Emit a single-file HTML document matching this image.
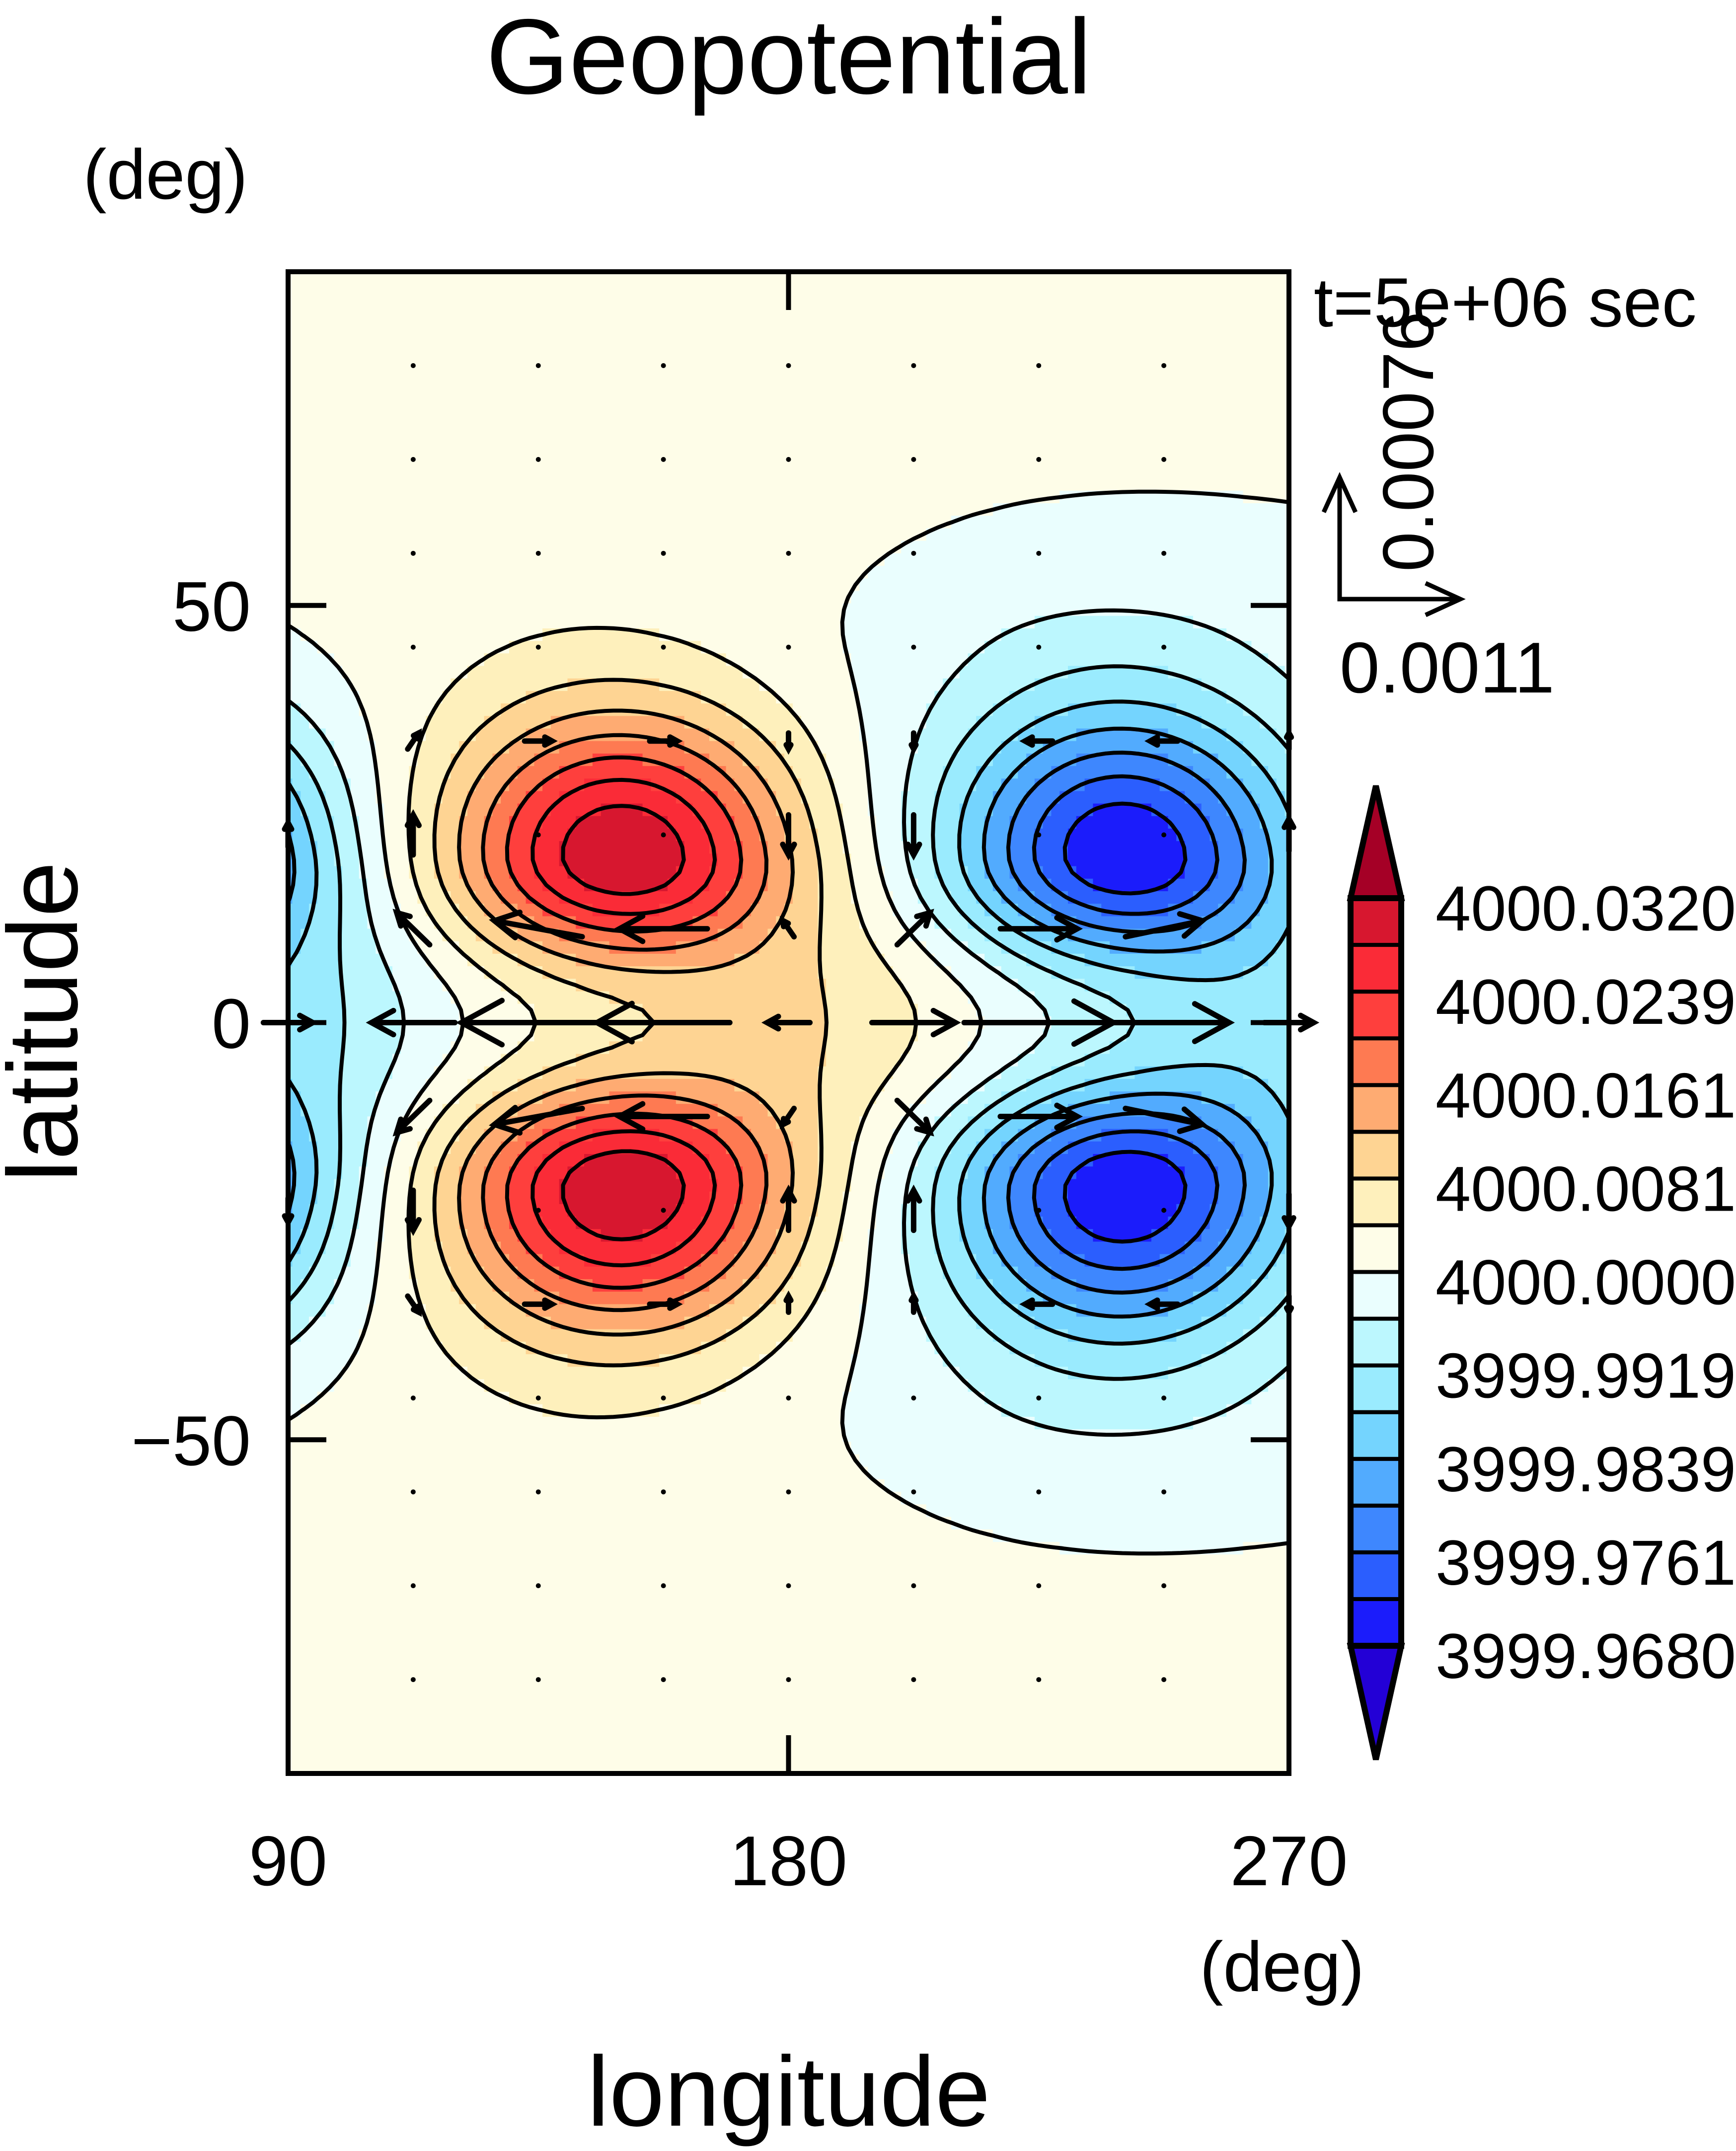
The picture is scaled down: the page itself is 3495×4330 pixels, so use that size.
<!DOCTYPE html>
<html><head><meta charset="utf-8"><title>Geopotential</title>
<style>html,body{margin:0;padding:0;background:#fff}svg{display:block}text{font-family:"Liberation Sans",Arial,sans-serif;fill:#000}</style>
</head><body>
<svg id="chart" xmlns="http://www.w3.org/2000/svg" width="3495" height="4330" viewBox="0 0 3495 4330">
<rect x="0" y="0" width="3495" height="4330" fill="#fff"/>
<g id="field"></g>
<g id="lines"></g>
<g id="vectors"></g>
<g id="frame"></g>
<g id="cbar"></g>
<text x="1588" y="188" font-size="215" text-anchor="middle">Geopotential</text>
<text x="333" y="400" font-size="142" text-anchor="middle">(deg)</text>
<text x="2645" y="657" font-size="140">t=5e+06 sec</text>
<text x="2581" y="4008" font-size="142" text-anchor="middle">(deg)</text>
<text x="1588" y="4279" font-size="200" text-anchor="middle">longitude</text>
<text x="0" y="0" font-size="200" text-anchor="middle" transform="translate(155,2057) rotate(-90)">latitude</text>
<g id="refvec"></g>
<text x="2697" y="1394" font-size="145">0.0011</text>
<text x="0" y="0" font-size="145" text-anchor="middle" transform="translate(2885,889) rotate(-90)">0.00076</text>
</svg>
<script>
// ---- data ----
const blobLon = [150,150,240,240,68,68,90,270,185,130,130,235,235,180,180];
const blobLat = [20,-20,20,-20,20,-20,0,0,0,55,-55,45,-45,90,-90];
const blobAmp = [0.031,0.031,-0.0305,-0.0305,-0.031,-0.031,-0.008,-0.008,0.007,0.002,0.002,-0.003,-0.003,0.001,0.001];
const blobSLon = [22,22,22,22,20,20,20,20,22,40,40,30,30,200,200];
const blobSEq = [9,9,9,9,9,9,10,10,10,20,20,15,15,15,15];
const blobSPole = [12,12,12,12,12,12,10,10,10,20,20,8,8,15,15];
const levels = [-0.032,-0.028,-0.024,-0.020,-0.016,-0.012,-0.008,-0.004,0,0.004,0.008,0.012,0.016,0.020,0.024,0.028,0.032];
const levelColors = ["#1b1cfb","#2b5efe","#3e87fe","#52abfe","#74d4fe","#9aebfe","#bcf7fe","#eafefe","#fefde8","#fef0bc","#fed493","#feab72","#fe7a52","#fe3f3d","#fa2b37","#d7172f"];
const belowColor = "#2300d6", aboveColor = "#a50026";
const cbarLabels = ["4000.0320","4000.0239","4000.0161","4000.0081","4000.0000","3999.9919","3999.9839","3999.9761","3999.9680"];
const cbarLabelLevels = [0.032,0.024,0.016,0.008,0,-0.008,-0.016,-0.024,-0.032];
const vecLons = [90,112.5,135,157.5,180,202.5,225,247.5,270];
const vecLats = [78.75,67.5,56.25,45,33.75,22.5,11.25,0];
const uRow0 = [0.00045,-0.00076,-0.0014,-0.00121,-0.00039,0.00076,0.00136,0.00119,0.00045];
const uRow11 = [0,-0.0003,-0.0008,-0.0008,-0.0001,0.0003,0.0007,0.0007,0];
const vRow11 = [0,0.0002,0.0001,0,0.0001,0.0002,0,0.0001,0];
const uRow22 = [0,0,0.00005,0.00005,0,0,0,0,0];
const vRow22 = [0.00015,0.00025,0,0,-0.00025,-0.00025,0,0,0.0002];
const uRow33 = [0,0.0001,0.00025,0.00025,0,0,-0.00025,-0.00025,0];
const vRow33 = [0,0.0001,0,0,-0.0001,-0.0001,0,0,0.0001];
const xTicks = [90,180,270], xTickLabels = ["90","180","270"];
const yTicks = [50,0,-50], yTickLabels = ["50","0","\u221250"];
const refU = 0.0011, refV = 0.00076;

// ---- axes ----
const X0=580, X1=2595, Y0=547, Y1=3570;
function xS(lon){return X0+(lon-90)/180*(X1-X0);}
function yS(lat){return Y0+(90-lat)/180*(Y1-Y0);}
const uScale=243/0.0011, vScale=245/0.00076;
const NS="http://www.w3.org/2000/svg";
function mk(tag,attrs,parent){const e=document.createElementNS(NS,tag);for(const k in attrs)e.setAttribute(k,attrs[k]);parent.appendChild(e);return e;}

function field(lon,lat){
  let s=0;
  for(let i=0;i<blobLon.length;i++){
    const dl=lon-blobLon[i], dp=lat-blobLat[i];
    let sl;
    if(blobLat[i]===0) sl=blobSEq[i];
    else sl=(dp*Math.sign(blobLat[i])<0)?blobSEq[i]:blobSPole[i];
    s+=blobAmp[i]*Math.exp(-dl*dl/(2*blobSLon[i]*blobSLon[i])-dp*dp/(2*sl*sl));
  }
  return s;
}
function colorOf(v){
  const idx=Math.floor((v-levels[0])/0.004+1e-9);
  if(idx<0)return belowColor; if(idx>=levelColors.length)return aboveColor;
  return levelColors[idx];
}

// ---- filled field ----
const step=1.5;
const nLon=Math.round(180/step)+1, nLat=Math.round(180/step)+1;
const grid=[];
for(let j=0;j<nLat;j++){grid.push([]);for(let i=0;i<nLon;i++)grid[j].push(field(90+i*step,90-j*step));}
const gF=document.getElementById('field');
for(let j=0;j<nLat;j++){
  const lat=90-j*step;
  const ya=yS(Math.min(90,lat+step/2)), yb=yS(Math.max(-90,lat-step/2));
  for(let i=0;i<nLon;i++){
    const lon=90+i*step;
    const xa=xS(Math.max(90,lon-step/2)), xb=xS(Math.min(270,lon+step/2));
    const r=mk('rect',{x:xa.toFixed(1),y:ya.toFixed(1),width:(xb-xa+1).toFixed(1),height:(yb-ya+1).toFixed(1),fill:colorOf(grid[j][i])},gF);
    
    
  }
}

// ---- contour lines (marching squares) ----
const gL=document.getElementById('lines');
levels.forEach(function(L){
  let d="";
  for(let j=0;j<nLat-1;j++)for(let i=0;i<nLon-1;i++){
    const a=grid[j][i],b=grid[j][i+1],c=grid[j+1][i+1],e=grid[j+1][i];
    if(L===0&&Math.max(Math.abs(a),Math.abs(b),Math.abs(c),Math.abs(e))<0.00003)continue;
    const pts=[];
    const lon0=90+i*step, lat0=90-j*step;
    function edge(v1,v2,p1,p2){if((v1<L)!==(v2<L)){const t=(L-v1)/(v2-v1);pts.push([p1[0]+(p2[0]-p1[0])*t,p1[1]+(p2[1]-p1[1])*t]);}}
    const P=[[lon0,lat0],[lon0+step,lat0],[lon0+step,lat0-step],[lon0,lat0-step]];
    edge(a,b,P[0],P[1]);edge(b,c,P[1],P[2]);edge(c,e,P[2],P[3]);edge(e,a,P[3],P[0]);
    for(let k=0;k+1<pts.length;k+=2){
      d+="M"+xS(pts[k][0]).toFixed(1)+" "+yS(pts[k][1]).toFixed(1)+"L"+xS(pts[k+1][0]).toFixed(1)+" "+yS(pts[k+1][1]).toFixed(1);
    }
  }
  if(d){const p=mk('path',{d:d,fill:'none',stroke:'#000','stroke-width':8,'stroke-linecap':'round'},gL);
    
    }
});

// ---- vectors ----
const gV=document.getElementById('vectors');
function rowUV(lat){
  const a=Math.abs(lat), sg=lat<0?-1:1;
  if(a===0)return [uRow0,vecLons.map(()=>0)];
  if(a===11.25)return [uRow11,vRow11.map(v=>v*sg)];
  if(a===22.5)return [uRow22,vRow22.map(v=>v*sg)];
  if(a===33.75)return [uRow33,vRow33.map(v=>v*sg)];
  return [vecLons.map(()=>0),vecLons.map(()=>0)];
}
const allLats=vecLats.concat(vecLats.slice(0,-1).map(l=>-l).reverse());
allLats.forEach(function(lat){
  const uv=rowUV(lat);
  vecLons.forEach(function(lon,i){
    const cx=xS(lon), cy=yS(lat);
    const dx=uv[0][i]*uScale, dy=-uv[1][i]*vScale;
    const len=Math.hypot(dx,dy);
    if(len<12){const c=mk('circle',{cx:cx,cy:cy,r:5,fill:'#000'},gV);
      
      return;}
    const x1=cx-dx/2,y1=cy-dy/2,x2=cx+dx/2,y2=cy+dy/2;
    const h=Math.min(0.3*len,110), ang=Math.atan2(dy,dx), w=0.5;
    const d="M"+x1+" "+y1+"L"+x2+" "+y2+"M"+(x2-h*Math.cos(ang-w))+" "+(y2-h*Math.sin(ang-w))+"L"+x2+" "+y2+"L"+(x2-h*Math.cos(ang+w))+" "+(y2-h*Math.sin(ang+w));
    const p=mk('path',{d:d,fill:'none',stroke:'#000','stroke-width':11,'stroke-linecap':'round','stroke-linejoin':'miter'},gV);
    
    
  });
});

// ---- frame & ticks ----
const gFr=document.getElementById('frame');
const fr=mk('rect',{x:X0,y:Y0,width:X1-X0,height:Y1-Y0,fill:'none',stroke:'#000','stroke-width':10},gFr);


yTicks.forEach(function(t,i){
  const y=yS(t);
  const p=mk('path',{d:"M"+X0+" "+y+"H"+(X0+77)+"M"+X1+" "+y+"H"+(X1-77),stroke:'#000','stroke-width':10},gFr);
  
  
  const tx=mk('text',{x:505,y:y+51,'font-size':142,'text-anchor':'end'},gFr);tx.textContent=yTickLabels[i];
  
  
});
xTicks.forEach(function(t,i){
  const x=xS(t);
  if(t>90&&t<270){const p=mk('path',{d:"M"+x+" "+Y0+"V"+(Y0+77)+"M"+x+" "+Y1+"V"+(Y1-77),stroke:'#000','stroke-width':10},gFr);
    
    }
  const tx=mk('text',{x:x,y:3795,'font-size':142,'text-anchor':'middle'},gFr);tx.textContent=xTickLabels[i];
  
  
});

// ---- reference vector ----
const gR=document.getElementById('refvec');
(function(){
  const ox=2697, oy=1206, ex=ox+refU*uScale, ey=oy-refV*vScale;
  const d="M"+ox+" "+ey+"V"+oy+"H"+ex+"M"+(ex-70)+" "+(oy-32)+"L"+ex+" "+oy+"L"+(ex-70)+" "+(oy+32)+"M"+(ox-32)+" "+(ey+70)+"L"+ox+" "+ey+"L"+(ox+32)+" "+(ey+70);
  const p=mk('path',{d:d,fill:'none',stroke:'#000','stroke-width':9},gR);
  
  
})();

// ---- colorbar ----
const gC=document.getElementById('cbar');
const CX0=2719, CX1=2821, CT=1808, CB=3313, CTIP=1582, CBTIP=3542;
function cY(v){return CB-(v-levels[0])/(levels[levels.length-1]-levels[0])*(CB-CT);}
const tri1=mk('polygon',{points:CX0+","+CT+" "+(CX0+CX1)/2+","+CTIP+" "+CX1+","+CT,fill:aboveColor,stroke:'#000','stroke-width':12,'stroke-linejoin':'miter'},gC);


const tri2=mk('polygon',{points:CX0+","+CB+" "+(CX0+CX1)/2+","+CBTIP+" "+CX1+","+CB,fill:belowColor,stroke:'#000','stroke-width':12},gC);


levelColors.forEach(function(col,i){
  const ya=cY(levels[i+1]), yb=cY(levels[i]);
  const r=mk('rect',{x:CX0,y:ya,width:CX1-CX0,height:yb-ya,fill:col,stroke:'#000','stroke-width':8},gC);
  
  
});
const ob=mk('rect',{x:CX0,y:CT,width:CX1-CX0,height:CB-CT,fill:'none',stroke:'#000','stroke-width':12},gC);


cbarLabels.forEach(function(lb,i){
  const t=mk('text',{x:2890,y:cY(cbarLabelLevels[i])+65,'font-size':128},gC);t.textContent=lb;
  
  
});
</script>
</body></html>
